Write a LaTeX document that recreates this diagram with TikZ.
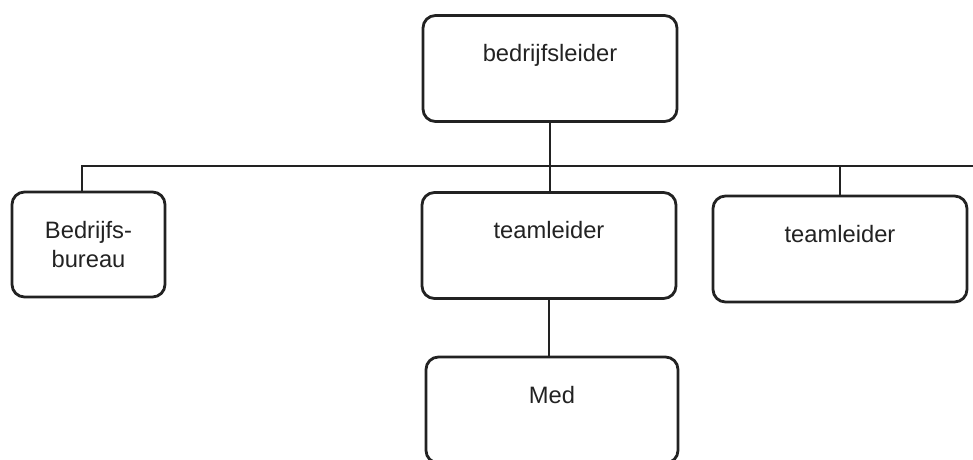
\documentclass[tikz,border=0pt]{standalone}
\usepackage{fontspec}
\setmainfont{Liberation Sans}
\usepackage{tikz}
\usetikzlibrary{positioning}
\definecolor{ink}{HTML}{222222}

\begin{document}
\begin{tikzpicture}[
  unit/.style={draw=ink, line width=1.6pt, rounded corners=0.25cm, minimum width=5.08cm,
               text=ink, font=\fontsize{13.5}{17}\selectfont},
  post/.style={unit, inner ysep=0pt, text height=0.92cm, text depth=1.2cm},
  link/.style={draw=ink, line width=1pt}
]
  \useasboundingbox (0,0) rectangle (19.46,-9.18);

  % Top level
  \node[post] (chief) at (11.0,-1.37) {bedrijfsleider};

  % Second level
  \node[unit, minimum width=3.06cm, minimum height=2.1cm, align=center] (bureau) at (1.77,-4.89) {Bedrijfs-\\bureau};
  \node[post] (team1) at (10.98,-4.91) {teamleider};
  \node[post] (team2) at (16.8,-4.98) {teamleider};

  % Third level
  \node[post, minimum width=5.04cm] (med) at (11.04,-8.2) {Med};

  % Connectors
  \coordinate (barR) at (19.46,-3.32);
  \draw[link] ([xshift=-0.13cm]bureau.north) |- (barR);
  \draw[link] (chief.south) -- (chief.south |- team1.north);
  \draw[link] (team2.north) -- (team2.north |- barR);
  \draw[link] (team1.south) -- (team1.south |- med.north);
\end{tikzpicture}
\end{document}
